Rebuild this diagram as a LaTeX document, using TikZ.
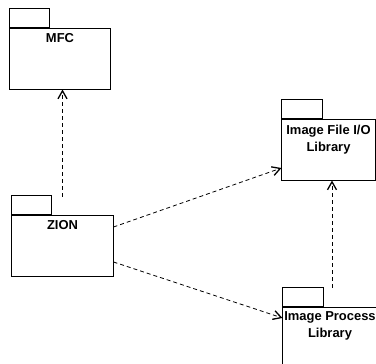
\documentclass[tikz,border=0pt]{standalone}
\usepackage{fontspec}
\setmainfont{Liberation Sans}
\usetikzlibrary{arrows.meta,positioning}
\begin{document}
\begin{tikzpicture}[x=1bp,y=-1bp,
  pkgbody/.style={draw, line width=1bp, minimum width=#1, minimum height=61bp, inner sep=0pt},
  pkgtab/.style={draw, line width=1bp, minimum width=40bp, minimum height=18.5bp, inner sep=0pt, anchor=south west},
  pkglabel/.style={inner sep=0pt, anchor=north, align=center, font=\fontsize{13}{17}\selectfont\bfseries},
  dep/.style={line width=0.8bp, dash pattern=on 4bp off 3bp, -{Straight Barb[length=8bp,width=9bp,line width=1.3bp]}}
]
\useasboundingbox (0,0) rectangle (376,364);
\clip (0,0) rectangle (376,364);
% packages
\node[pkgbody=100bp] (mfc) at (60,58.5) {};
\node[pkgtab] (mfctab) at (mfc.north west) {};
\node[pkglabel, below=6bp of mfc.north] (mfclab) {MFC};

\node[pkgbody=101bp] (zion) at (62.5,245.5) {};
\node[pkgtab] (ziontab) at (zion.north west) {};
\node[pkglabel, below=6bp of zion.north] (zionlab) {ZION};

\node[pkgbody=93bp] (ifio) at (328.5,149.5) {};
\node[pkgtab] (ifiotab) at (ifio.north west) {};
\node[pkglabel, below=6bp of ifio.north] (ifiolab) {Image File I/O\\Library};

\node[pkgbody=94bp] (ip) at (330,337.5) {};
\node[pkgtab] (iptab) at (ip.north west) {};
\node[pkglabel, below=5bp of ip.north] (iplab) {Image Process\\Library};

% dependencies
\coordinate (zt) at ([yshift=18bp]zion.north);
\draw[dep] (zt) -- (zt |- mfc.south);
\coordinate (ipt) at ([xshift=2bp,yshift=19bp]ip.north);
\draw[dep] (ipt) -- (ipt |- ifio.south);
\draw[dep] ([yshift=18.5bp]zion.east) -- ([yshift=-18.5bp]ifio.west);
\draw[dep] ([yshift=-16.5bp]zion.east) -- ([yshift=19.5bp]ip.west);
\end{tikzpicture}
\end{document}
